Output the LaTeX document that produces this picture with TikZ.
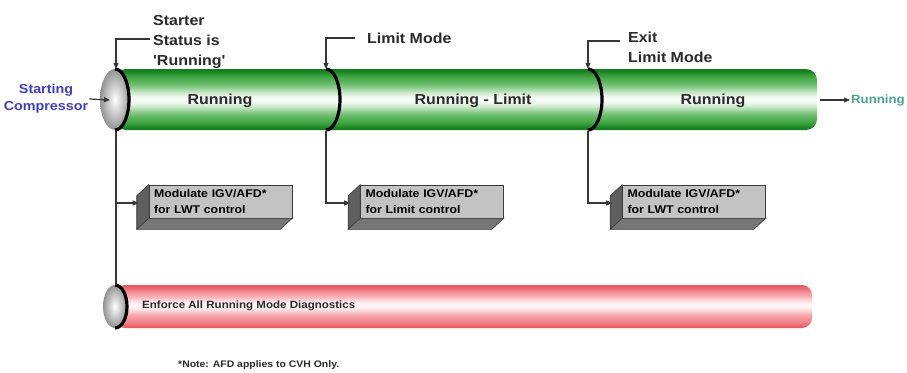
\documentclass[tikz,border=0pt]{standalone}
\usepackage{fontspec}
\setmainfont{Liberation Sans}[FakeStretch=1.1]
\newfontfamily\plainq{Liberation Sans}[FakeStretch=1.1]
\usetikzlibrary{arrows.meta,calc}
\definecolor{gD}{RGB}{20,125,30}
\definecolor{gM}{RGB}{62,168,64}
\definecolor{gL}{RGB}{250,254,250}
\definecolor{rD}{RGB}{230,92,102}
\definecolor{rM}{RGB}{244,136,144}
\definecolor{rL}{RGB}{255,248,248}
\definecolor{txt}{RGB}{42,42,42}
\definecolor{blu}{RGB}{62,62,205}
\definecolor{teal2}{RGB}{72,165,148}
\definecolor{boxF}{RGB}{195,195,195}
\definecolor{boxL}{RGB}{95,95,95}
\definecolor{boxB}{RGB}{118,118,118}
\definecolor{boxE}{RGB}{60,60,60}
\definecolor{lineC}{RGB}{55,55,55}
\newcommand{\boxsides}[1]{%
  \fill[boxL,draw=boxE,line width=0.6pt] (#1.north west) -- ++(-12,11) -- ($(#1.south west)+(-12,11)$) -- (#1.south west) -- cycle;
  \fill[boxB,draw=boxE,line width=0.6pt] (#1.south west) -- (#1.south east) -- ++(-12,11) -- ($(#1.south west)+(-12,11)$) -- cycle;}
\begin{document}
\begin{tikzpicture}[x=1pt,y=-1pt,
  conn/.style={draw=lineC,line width=1.2pt},
  tip/.style={-{Triangle[length=6pt,width=5pt]}},
  tubelbl/.style={text=txt,font=\fontsize{14.5}{17}\selectfont\bfseries,inner sep=1pt},
  toplbl/.style={text=txt,font=\fontsize{14.5}{20}\selectfont\bfseries,align=left,anchor=west,inner sep=1pt},
  mbox/.style={rectangle,fill=boxF,draw=boxE,line width=0.6pt,minimum width=143pt,minimum height=33pt,
    text width=133pt,inner xsep=5pt,align=left,text=black,font=\fontsize{11.2}{15.5}\selectfont\bfseries},
  capline/.style={line width=3.2pt,black}]
\useasboundingbox (0,0) rectangle (907,372);
\fill[white] (0,0) rectangle (907,372);

% green tube, shaded by thin strips
\begin{scope}
\clip[rounded corners=11pt] (115,69) rectangle (817,130);
\foreach \i in {0,...,61}{
  \pgfmathsetmacro\u{(\i/61-0.5)/0.22}
  \pgfmathsetmacro\va{(\i/61)/0.09}
  \pgfmathsetmacro\vb{(1-\i/61)/0.09}
  \pgfmathtruncatemacro\f{100*exp(-min(9,\u*\u))}
  \pgfmathtruncatemacro\g{max(0,100-100*exp(-min(9,\va*\va))-100*exp(-min(9,\vb*\vb)))}
  \fill[gL!\f!gM!\g!gD] (110,68.5+\i) rectangle (820,69.8+\i);
}
\end{scope}
% red tube, shaded by thin strips
\begin{scope}
\clip[rounded corners=10pt] (115,285) rectangle (812,328);
\foreach \i in {0,...,43}{
  \pgfmathsetmacro\u{(\i/43-0.47)/0.21}
  \pgfmathsetmacro\va{(\i/43)/0.11}
  \pgfmathsetmacro\vb{(1-\i/43)/0.11}
  \pgfmathtruncatemacro\f{100*exp(-min(9,\u*\u))}
  \pgfmathtruncatemacro\g{max(0,100-100*exp(-min(9,\va*\va))-100*exp(-min(9,\vb*\vb)))}
  \fill[rL!\f!rM!\g!rD] (110,284.5+\i) rectangle (815,285.8+\i);
}
\end{scope}
\shade[inner color=white,outer color=gray!85] (115,99.5) ellipse[x radius=15,y radius=30.5];
\shade[inner color=white,outer color=gray!85] (115,306.5) ellipse[x radius=12,y radius=21.5];
\draw[capline] (115,69) arc[start angle=-90,end angle=90,x radius=14,y radius=30.5];
\draw[capline] (326,69) arc[start angle=-90,end angle=90,x radius=14,y radius=30.5];
\draw[capline] (588,69) arc[start angle=-90,end angle=90,x radius=14,y radius=30.5];
\draw[capline] (115,285) arc[start angle=-90,end angle=90,x radius=12,y radius=21.5];

% coordinates
\coordinate (c1t) at (116,69);
\coordinate (c2t) at (326,69);
\coordinate (c3t) at (588,69);
\coordinate (c1b) at (116,131);
\coordinate (c2b) at (326,131);
\coordinate (c3b) at (588,131);
\coordinate (r1t) at (116,285);
\coordinate (s1) at (150,39);
\coordinate (s2) at (355,38);
\coordinate (s3) at (620,41);
\coordinate (capL) at (110,100);
\coordinate (tubeR) at (820,100);

% tube labels
\node[tubelbl] (t1) at (220,101) {Running};
\node[tubelbl] (t2) at (473,101) {Running - Limit};
\node[tubelbl] (t3) at (713,101) {Running};

% top labels
\node[toplbl] (st) at (152,42) {Starter\\Status is\\{\plainq\bfseries 'Running'}};
\node[toplbl] (lm) at (366,38) {Limit Mode};
\node[toplbl] (ex) at (627,47) {Exit\\Limit Mode};

\draw[conn,tip] (s1) -| (c1t);
\draw[conn,tip] (s2) -| (c2t);
\draw[conn,tip] (s3) -| (c3t);

% side labels
\node[text=blu,font=\fontsize{13}{17}\selectfont\bfseries,align=center,inner sep=1pt] (sc) at (46,99) {Starting\\Compressor};
\draw[conn,tip] (sc.east) -- (capL);
\node[text=teal2,font=\fontsize{12}{14}\selectfont\bfseries,anchor=west,inner sep=1pt] (rn) at (850,100) {Running};
\draw[conn,tip] (tubeR) -- (rn.west);

% boxes
\node[mbox] (b1) at (220.5,201.5) {Modulate IGV/AFD*\\for LWT control};
\node[mbox] (b2) at (432,201.5) {Modulate IGV/AFD*\\for Limit control};
\node[mbox] (b3) at (694,201.5) {Modulate IGV/AFD*\\for LWT control};
\boxsides{b1}
\boxsides{b2}
\boxsides{b3}
\coordinate (a1) at ($(b1.west)+(-10,1.5)$);
\coordinate (a2) at ($(b2.west)+(-10,1.5)$);
\coordinate (a3) at ($(b3.west)+(-10,1.5)$);

\draw[conn] (c1b) -- (r1t);
\draw[conn,tip] (a1 -| c1b) -- (a1);
\draw[conn,tip] (c2b) |- (a2);
\draw[conn,tip] (c3b) |- (a3);

% bottom texts
\node[text=txt,font=\fontsize{10.5}{13}\selectfont\bfseries,anchor=west,inner sep=1pt] (en) at (141,306) {Enforce All Running Mode Diagnostics};
\node[text=txt,font=\fontsize{9.5}{12}\selectfont\bfseries,anchor=west,inner sep=1pt] (nt) at (177,365) {*Note: AFD applies to CVH Only.};
\end{tikzpicture}
\end{document}
